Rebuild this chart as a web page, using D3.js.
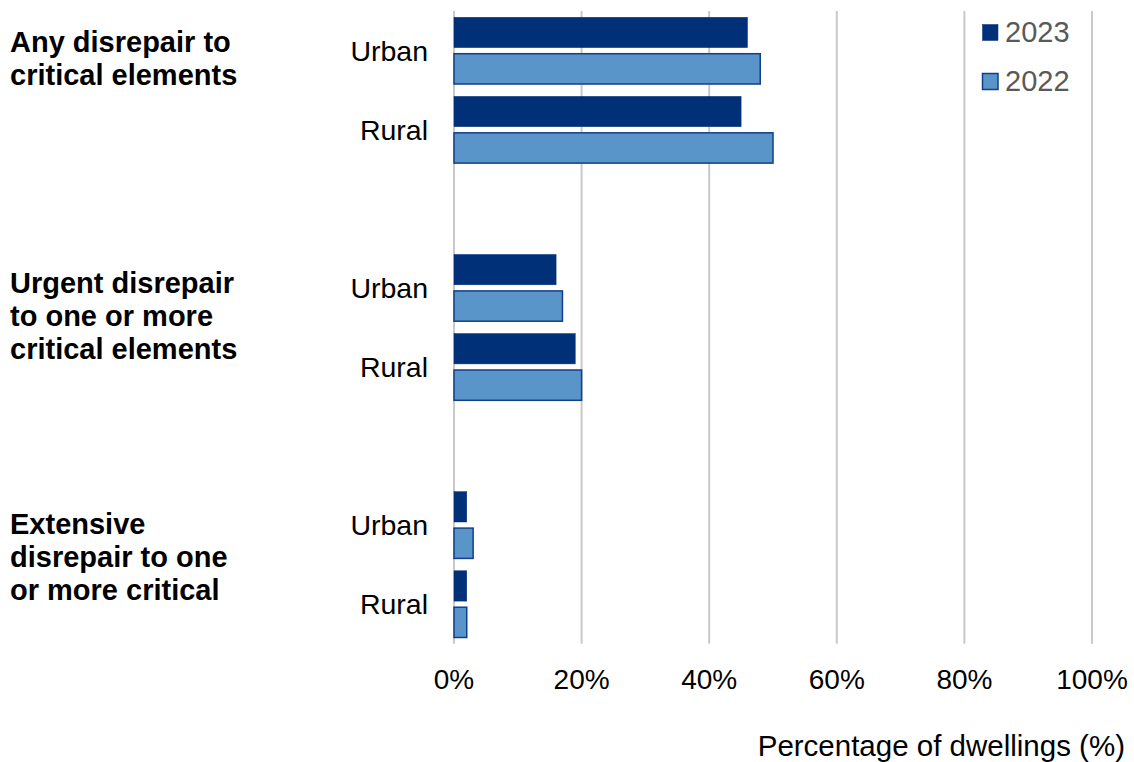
<!DOCTYPE html>
<html>
<head>
<meta charset="utf-8">
<script src="https://cdn.jsdelivr.net/npm/d3@7"></script>
<style>
  html, body { margin: 0; padding: 0; background: #fff; }
  svg { display: block; font-family: "Liberation Sans", Arial, sans-serif; }
</style>
</head>
<body>
<svg id="chart" width="1134" height="762"></svg>
<script>
// Disrepair categories (each wrapped over several lines as drawn)
const groups = ["any", "urgent", "extensive"];
const groupLabels = [
  ["Any disrepair to", "critical elements"],
  ["Urgent disrepair", "to one or more", "critical elements"],
  ["Extensive", "disrepair to one", "or more critical"]
];
const areas = ["Urban", "Rural"];
const years = ["2023", "2022"];

// Percentage of dwellings, per group: [Urban, Rural]
const values2023 = [[46, 45], [16, 19], [2, 2]];
const values2022 = [[48, 50], [17, 20], [3, 2]];

const xTicks = [0, 20, 40, 60, 80, 100];
const axisTitle = "Percentage of dwellings (%)";

const colors = { "2023": "#003078", "2022": "#5995c9" };
const stroke2022 = "#123f86";

const svg = d3.select("#chart");

const plotLeft = 454, plotRight = 1092, plotTop = 11.1, rowStep = 79.1, groupStep = 237.2;
const plotBottom = plotTop + 2 * groupStep + 2 * rowStep;

const x = d3.scaleLinear().domain([0, 100]).range([plotLeft, plotRight]);
const yGroup = d3.scaleBand().domain(groups).range([plotTop, plotTop + groups.length * groupStep]);
const yArea = d3.scaleBand().domain(areas).range([0, 2 * rowStep]);
const yYear = d3.scaleBand().domain(years).range([0, rowStep]).paddingInner(0.168).paddingOuter(0.17);

// Vertical gridlines
svg.append("g")
  .selectAll("line")
  .data(xTicks)
  .join("line")
  .attr("x1", d => x(d)).attr("x2", d => x(d))
  .attr("y1", plotTop).attr("y2", plotBottom)
  .attr("stroke", "#c9c9c9")
  .attr("stroke-width", 2);

// Tick labels
svg.append("g")
  .selectAll("text")
  .data(xTicks)
  .join("text")
  .attr("x", d => x(d))
  .attr("y", 689)
  .attr("text-anchor", "middle")
  .attr("font-size", 28)
  .attr("fill", "#000")
  .text(d => d + "%");

// Axis title
svg.append("text")
  .attr("x", 1125).attr("y", 756)
  .attr("text-anchor", "end")
  .attr("font-size", 29.5)
  .attr("fill", "#000")
  .text(axisTitle);

// Bars
const rows = [];
groups.forEach((g, gi) => {
  areas.forEach((a, ai) => {
    rows.push({ group: g, area: a, year: "2023", value: values2023[gi][ai] });
    rows.push({ group: g, area: a, year: "2022", value: values2022[gi][ai] });
  });
});

svg.append("g")
  .selectAll("rect")
  .data(rows)
  .join("rect")
  .attr("x", x(0))
  .attr("y", d => yGroup(d.group) + yArea(d.area) + yYear(d.year))
  .attr("width", d => x(d.value) - x(0))
  .attr("height", yYear.bandwidth())
  .attr("fill", d => colors[d.year])
  .attr("stroke", d => d.year === "2022" ? stroke2022 : colors["2023"])
  .attr("stroke-width", d => d.year === "2022" ? 1.5 : 0.5);

// Urban / Rural labels
const areaLabels = [];
groups.forEach(g => areas.forEach(a => areaLabels.push({ group: g, area: a })));
svg.append("g")
  .selectAll("text")
  .data(areaLabels)
  .join("text")
  .attr("x", 428)
  .attr("y", d => yGroup(d.group) + yArea(d.area) + yArea.bandwidth() / 2)
  .attr("dy", "0.35em")
  .attr("text-anchor", "end")
  .attr("font-size", 28.5)
  .attr("fill", "#000")
  .text(d => d.area);

// Group labels (bold, wrapped)
const labelY = d3.scalePoint().domain(groups).range([52, 534]);
const lineHeight = 33;
groups.forEach((g, gi) => {
  const t = svg.append("text")
    .attr("x", 10)
    .attr("y", labelY(g))
    .attr("font-size", 29)
    .attr("font-weight", "bold")
    .attr("fill", "#000");
  groupLabels[gi].forEach((line, li) => {
    t.append("tspan").attr("x", 10).attr("y", labelY(g) + li * lineHeight).text(line);
  });
});

// Legend
const legend = svg.append("g");
years.forEach((yr, i) => {
  const ly = 24.5 + i * 49;
  legend.append("rect")
    .attr("x", 982.5).attr("y", ly)
    .attr("width", 15.5).attr("height", 16)
    .attr("fill", colors[yr])
    .attr("stroke", yr === "2022" ? stroke2022 : colors["2023"])
    .attr("stroke-width", yr === "2022" ? 1.5 : 0.5);
  legend.append("text")
    .attr("x", 1005).attr("y", 41.5 + i * 49)
    .attr("font-size", 29)
    .attr("fill", "#595959")
    .text(yr);
});
</script>
</body>
</html>
